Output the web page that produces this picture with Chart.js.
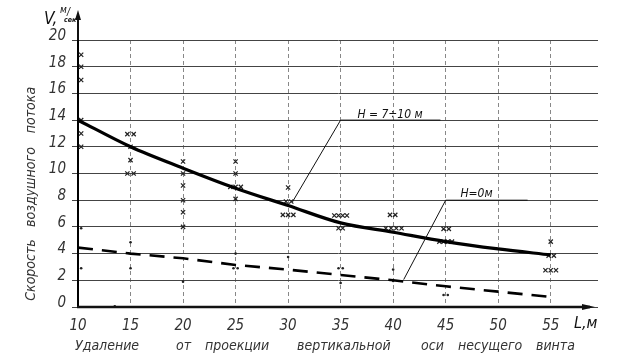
<!DOCTYPE html>
<html>
<head>
<meta charset="utf-8">
<script src="https://cdn.jsdelivr.net/npm/chart.js@4"></script>
<style>
  html, body { margin: 0; padding: 0; background: #fff; }
  canvas { display: block; }
</style>
</head>
<body>
<canvas id="chart" width="625" height="364"></canvas>
<script>
// ось L, м
const distances = [10, 15, 20, 25, 30, 35, 40, 45, 50, 55];
// H = 7÷10 м (сплошная)
const speedHigh = [14, 12, 10.4, 8.9, 7.6, 6.3, 5.6, 4.9, 4.35, 3.9];
// H = 0 м (пунктир)
const speedGround = [4.45, 4.0, 3.65, 3.15, 2.8, 2.4, 2.0, 1.55, 1.15, 0.75];

// замеры (крестики)
const crossL = [10.3, 10.3, 10.3, 10.3, 10.3, 10.3,
  14.7, 15.3, 15, 15, 14.7, 15.3,
  20, 20, 20, 20, 20, 20,
  25, 25, 24.5, 25, 25.5, 25,
  30, 29.8, 30.3, 29.5, 30, 30.5,
  34.4, 34.8, 35.2, 35.6, 34.8, 35.2,
  39.7, 40.2, 39.3, 39.8, 40.3, 40.8,
  44.8, 45.3, 44.4, 44.8, 45.2, 45.6,
  55, 54.8, 55.3, 54.5, 55, 55.5];
const crossV = [18.9, 18, 17, 14, 13, 12,
  12.95, 12.95, 12, 11, 10, 10,
  10.9, 10, 9.1, 8, 7.1, 6,
  10.9, 10, 9, 9, 9, 8.1,
  8.95, 7.9, 7.9, 6.9, 6.9, 6.9,
  6.85, 6.85, 6.85, 6.85, 5.9, 5.9,
  6.9, 6.9, 5.9, 5.9, 5.9, 5.9,
  5.85, 5.85, 4.9, 4.9, 4.9, 4.9,
  4.9, 3.85, 3.85, 2.75, 2.75, 2.75];

// замеры у земли (точки)
const dotL = [10.3, 10.3, 15, 15, 13.5, 20, 24.8, 25.2, 25, 30, 34.8, 35.2, 35, 40, 40, 44.8, 45.2];
const dotV = [5.9, 2.9, 4.85, 2.9, 0.05, 1.9, 2.9, 2.9, 4.0, 3.75, 2.9, 2.9, 1.8, 2.8, 1.95, 0.9, 0.9];

const yTicks = [0, 2, 4, 6, 8, 10, 12, 14, 16, 18, 20];
const xTicks = [10, 15, 20, 25, 30, 35, 40, 45, 50, 55];

const ff = "'DejaVu Sans Condensed', 'DejaVu Sans', sans-serif";

const toPts = (xs, ys) => xs.map((x, i) => ({ x: x, y: ys[i] }));

// подписи, выноски, стрелки осей
const extras = {
  id: 'extras',
  afterDraw(chart) {
    const ctx = chart.ctx;
    const xs = chart.scales.x, ys = chart.scales.y;
    const a = chart.chartArea;
    const px = v => xs.getPixelForValue(v);
    const py = v => ys.getPixelForValue(v);
    ctx.save();
    ctx.strokeStyle = '#111';
    ctx.fillStyle = '#111';

    // стрелка оси V
    ctx.lineWidth = 2;
    ctx.beginPath();
    ctx.moveTo(a.left, a.top);
    ctx.lineTo(a.left, 14);
    ctx.stroke();
    ctx.beginPath();
    ctx.moveTo(a.left, 10);
    ctx.lineTo(a.left - 3, 20);
    ctx.lineTo(a.left + 3, 20);
    ctx.closePath();
    ctx.fill();

    // ось L со стрелкой
    const yb = a.bottom;
    ctx.lineWidth = 2.5;
    ctx.beginPath();
    ctx.moveTo(a.left - 1, yb);
    ctx.lineTo(590, yb);
    ctx.stroke();
    ctx.beginPath();
    ctx.moveTo(582, yb - 3);
    ctx.lineTo(595, yb);
    ctx.lineTo(582, yb + 3);
    ctx.closePath();
    ctx.fill();

    // выноски
    ctx.lineWidth = 1;
    ctx.beginPath();
    ctx.moveTo(px(30.4), py(7.85));
    ctx.lineTo(px(35), py(14));
    ctx.lineTo(px(44.5), py(14));
    ctx.moveTo(px(41), py(2.05));
    ctx.lineTo(px(45), py(8));
    ctx.lineTo(px(52.8), py(8));
    ctx.stroke();

    ctx.font = 'italic 12px ' + ff;
    ctx.textBaseline = 'alphabetic';
    ctx.textAlign = 'left';
    ctx.fillText('H = 7÷10 м', px(36.6), py(14) - 2);
    ctx.fillText('H=0м', px(46.4), py(8) - 3);

    // подпись оси V
    ctx.font = 'italic 17px ' + ff;
    ctx.fillText('V,', 44, 24);
    ctx.font = 'italic 10px ' + ff;
    ctx.fillText('м', 60, 13);
    ctx.fillText('/', 67, 15);
    ctx.font = 'bold italic 7px ' + ff;
    ctx.fillText('сек', 64, 22);

    // подпись оси L
    ctx.font = 'italic 16px ' + ff;
    ctx.fillText('L,м', 574, 328);

    // название оси V
    ctx.save();
    ctx.translate(31, 195);
    ctx.rotate(-Math.PI / 2);
    ctx.font = 'italic 14px ' + ff;
    ctx.fillStyle = '#333';
    ctx.textAlign = 'center';
    ctx.textBaseline = 'middle';
    [['Скорость', -75], ['воздушного', 8], ['потока', 85]].forEach(w => ctx.fillText(w[0], w[1], 0));
    ctx.restore();

    // название оси L
    ctx.font = 'italic 14px ' + ff;
    ctx.fillStyle = '#333';
    ctx.textAlign = 'left';
    const words = [['Удаление', 75], ['от', 176], ['проекции', 205], ['вертикальной', 297],
      ['оси', 421], ['несущего', 458], ['винта', 536]];
    words.forEach(w => ctx.fillText(w[0], w[1], 350));
    ctx.restore();
  }
};

new Chart(document.getElementById('chart'), {
  type: 'scatter',
  data: {
    datasets: [
      {
        type: 'line',
        data: toPts(distances, speedHigh),
        borderColor: '#000',
        borderWidth: 3.2,
        pointRadius: 0,
        cubicInterpolationMode: 'monotone',
        fill: false
      },
      {
        type: 'line',
        data: toPts(distances, speedGround),
        borderColor: '#000',
        borderWidth: 2.6,
        borderDash: [15, 9],
        pointRadius: 0,
        tension: 0,
        fill: false
      },
      {
        data: toPts(crossL, crossV),
        pointStyle: 'crossRot',
        pointRadius: 3,
        borderColor: '#222',
        borderWidth: 1.2,
        clip: false
      },
      {
        data: toPts(dotL, dotV),
        pointStyle: 'circle',
        pointRadius: 1.3,
        backgroundColor: '#222',
        borderWidth: 0,
        clip: false
      }
    ]
  },
  options: {
    responsive: false,
    animation: false,
    layout: { padding: { top: 40, right: 27, left: 0, bottom: 0 } },
    plugins: {
      legend: { display: false },
      tooltip: { enabled: false },
      title: { display: false }
    },
    scales: {
      x: {
        type: 'linear',
        min: 10,
        max: 59.5,
        afterFit: s => { s.height = 57; },
        afterBuildTicks: s => { s.ticks = xTicks.map(v => ({ value: v })); },
        border: { display: false, dash: [4, 3] },
        grid: {
          color: ctx => ctx.tick && ctx.tick.value === 10 ? 'rgba(0,0,0,0)' : '#888',
          lineWidth: 1,
          drawTicks: false
        },
        ticks: {
          padding: 10,
          color: '#333',
          font: { family: ff, size: 15, style: 'italic' }
        }
      },
      y: {
        type: 'linear',
        min: 0,
        max: 20,
        afterFit: s => { s.width = 78; },
        afterBuildTicks: s => { s.ticks = yTicks.map(v => ({ value: v })); },
        border: { color: '#000', width: 2 },
        grid: {
          color: '#444',
          lineWidth: 1,
          tickLength: 6
        },
        ticks: {
          padding: 6,
          labelOffset: -4,
          color: '#333',
          font: { family: ff, size: 15, style: 'italic' }
        }
      }
    }
  },
  plugins: [extras]
});
</script>
</body>
</html>
